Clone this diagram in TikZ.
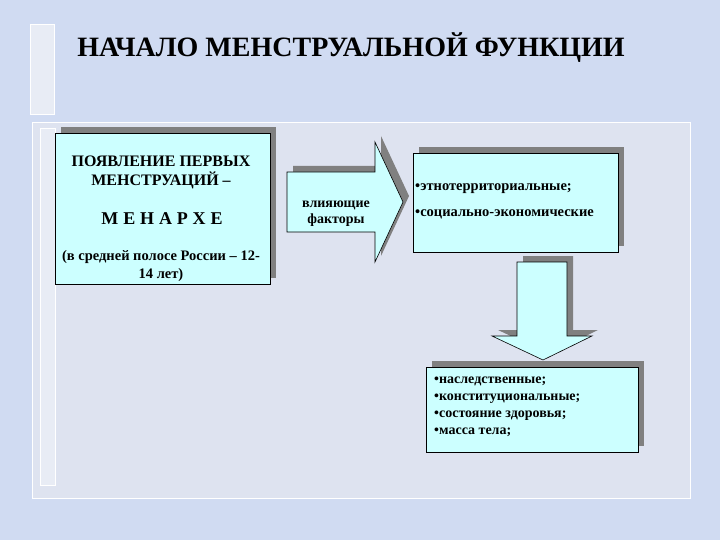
\documentclass[tikz,border=0pt]{standalone}
\usepackage{fontspec}
\setmainfont{Liberation Serif}
\usetikzlibrary{positioning,shadows}

\definecolor{slidebg}{RGB}{208,219,242}
\definecolor{panelbg}{RGB}{222,227,240}
\definecolor{barbg}{RGB}{232,236,245}
\definecolor{boxfill}{RGB}{204,255,255}
\definecolor{shadowgray}{RGB}{128,128,128}

\tikzset{
  grayshadow/.style={drop shadow={shadow xshift=6pt,shadow yshift=6pt,fill=shadowgray,opacity=1}},
  infobox/.style={draw=black,fill=boxfill,grayshadow,inner sep=0pt},
  arrowshadow/.style={fill=shadowgray,xshift=6pt,yshift=6pt},
  blockarrow/.style={draw=black,fill=boxfill,line join=miter,line width=0.6pt},
  boxtext/.style={font=\bfseries\fontsize{14.5}{18}\selectfont,inner sep=0pt},
  listtext/.style={boxtext,anchor=west}
}
\newcommand{\rightblock}{(287,172) -- (375,172) -- (375,142) -- (403,202) -- (375,262)
  -- (375,232) -- (287,232) -- cycle}
\newcommand{\downblock}{(517,262) -- (567,262) -- (567,336) -- (592,336) -- (543,360)
  -- (492,336) -- (517,336) -- cycle}

\begin{document}
\begin{tikzpicture}[x=1pt,y=-1pt]
\useasboundingbox (0,0) rectangle (720,540);
\fill[slidebg] (0,0) rectangle (720,540);
% panel and side bars
\filldraw[fill=panelbg,draw=white] (32,122) rectangle (690,498);
\filldraw[fill=barbg,draw=white] (30,24) rectangle (54,114);
\filldraw[fill=barbg,draw=white] (40,128) rectangle (55,485);

\node (title) at (351,48) {\bfseries\fontsize{28}{32}\selectfont НАЧАЛО МЕНСТРУАЛЬНОЙ ФУНКЦИИ};

% boxes
\node[infobox,minimum width=215pt,minimum height=151pt] (menarche) at (162.5,208.5) {};
\node[infobox,minimum width=205pt,minimum height=99pt] (social) at (515.5,202.5) {};
\node[infobox,minimum width=212pt,minimum height=85pt] (body) at (532,409.5) {};

% block arrows
\fill[arrowshadow] \rightblock;
\path[blockarrow] \rightblock;
\fill[arrowshadow] \downblock;
\path[blockarrow] \downblock;

% texts
\node[boxtext,font=\bfseries\fontsize{16}{19}\selectfont,align=center] (first) at (161,172)
  {ПОЯВЛЕНИЕ ПЕРВЫХ\\МЕНСТРУАЦИЙ –};
\node[boxtext,font=\bfseries\fontsize{18}{20}\selectfont] (word) at (162,219)
  {М\hspace{0.27em}Е\hspace{0.27em}Н\hspace{0.27em}А\hspace{0.27em}Р\hspace{0.27em}Х\hspace{0.27em}Е};
\node[boxtext,align=center] (age) at (161,266)
  {(в средней полосе России – 12-\\14 лет)};
\node[boxtext,align=center,font=\bfseries\fontsize{14}{16}\selectfont] (factors) at (336,214)
  {влияющие\\факторы};
\node[listtext] (ethno) at (415,189) {•этнотерриториальные;};
\node[listtext] (socio) at (415,214) {•социально-экономические};
\node[listtext,align=left,font=\bfseries\fontsize{14}{17}\selectfont] (list) at (434,407)
  {•наследственные;\\•конституциональные;\\•состояние здоровья;\\•масса тела;};
\end{tikzpicture}
\end{document}
